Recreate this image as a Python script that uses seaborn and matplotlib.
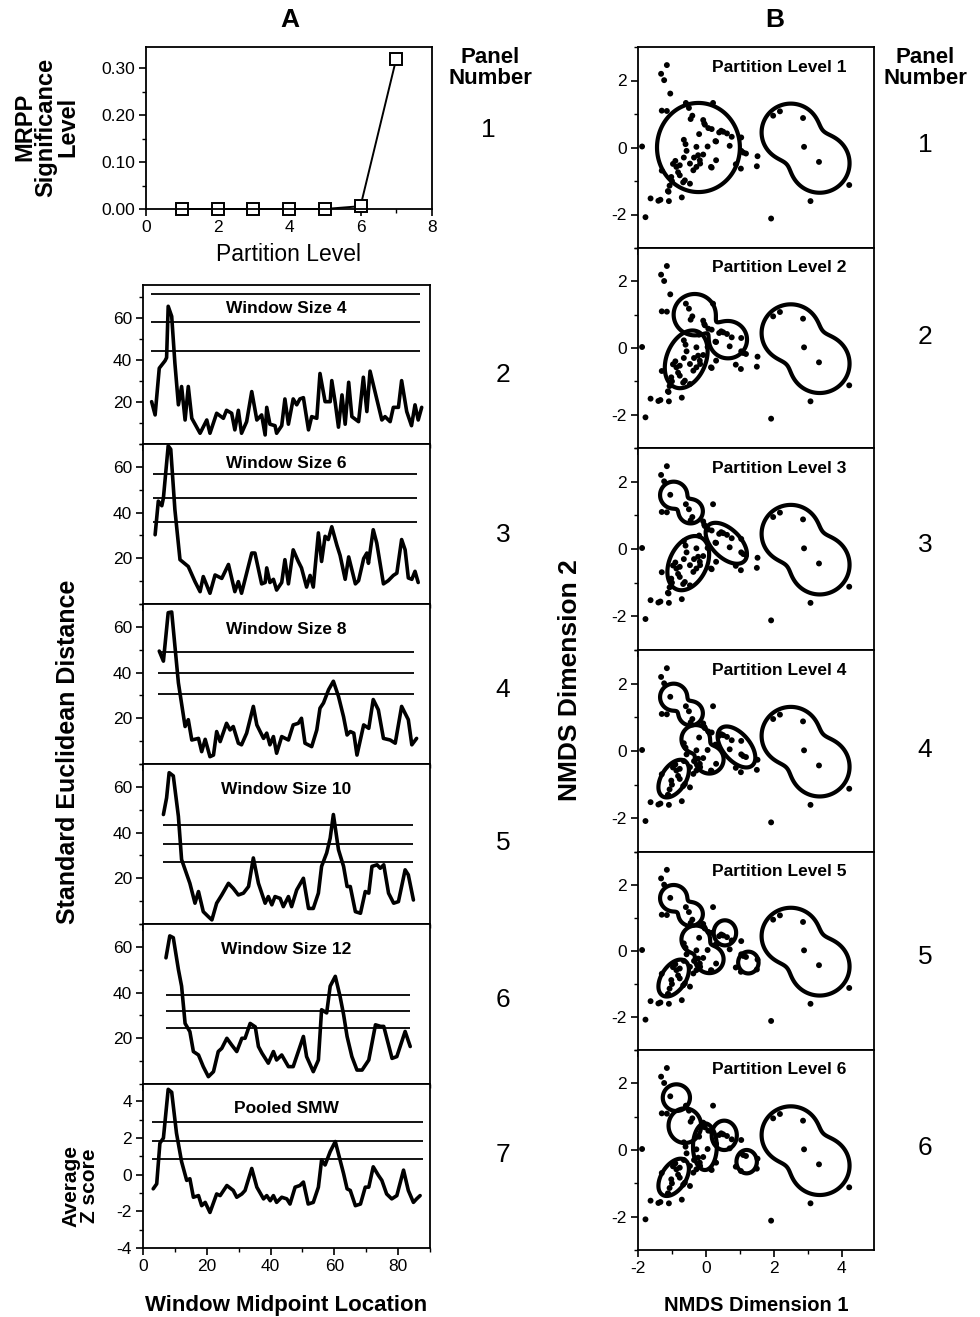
import numpy as np
import matplotlib
matplotlib.use("Agg")
import matplotlib.pyplot as plt
import seaborn as sns
from matplotlib.ticker import MultipleLocator, FormatStrFormatter

sns.set_theme(style="ticks")
plt.rcParams['font.family'] = ['Liberation Sans', 'DejaVu Sans']
plt.rcParams['axes.linewidth'] = 1.3
plt.rcParams['axes.unicode_minus'] = False

# ---------------- data: panel A1 (MRPP) ----------------
partition_levels = [1, 2, 3, 4, 5, 6, 7]
mrpp_p = [0.0, 0.0, 0.0, 0.0, 0.0, 0.006, 0.32]

# ---------------- data: SMW profiles ----------------
ws4_x = [2.7, 3.8, 5.1, 6.9, 7.4, 7.9, 9.0, 10.0, 11.1, 12.1, 13.2, 14.2, 15.3, 17.9, 20.0, 21.0, 23.1,
         25.2, 26.2, 27.8, 28.8, 29.9, 30.9, 32.5, 34.1, 35.7, 37.2, 38.3, 38.8, 39.8, 41.4, 41.9, 43.5,
         44.5, 45.6, 47.1, 48.2, 49.2, 50.3, 51.9, 52.9, 54.5, 55.5, 57.1, 58.7, 59.2, 60.3, 61.3, 62.4,
         63.4, 64.5, 65.5, 67.6, 69.1, 70.2, 71.2, 73.3, 74.9, 75.9, 77.5, 78.5, 80.1, 81.1, 82.7, 84.2,
         85.3, 86.3, 87.4]
ws4_y = [20.1, 13.8, 36.0, 39.5, 41.0, 65.4, 60.6, 38.4, 18.6, 27.3, 11.4, 27.3, 12.2, 5.1, 11.4, 5.1, 14.6,
         12.2, 16.0, 14.6, 6.7, 16.0, 5.1, 10.6, 24.9, 11.4, 13.8, 4.3, 17.4, 9.4, 8.7, 5.1, 8.7,
         21.4, 9.4, 21.4, 18.6, 21.4, 22.0, 6.7, 13.0, 12.2, 33.5, 20.1, 20.1, 30.1, 19.4, 8.0, 23.3,
         9.4, 29.3, 13.0, 10.6, 31.7, 15.4, 34.6, 21.4, 11.4, 13.0, 10.6, 17.4, 17.4, 30.1, 15.4, 8.7,
         18.6, 11.4, 17.4]

ws6_x = [3.8, 4.8, 5.9, 6.4, 7.9, 8.7, 10.0, 11.6, 14.2, 16.3, 17.9, 18.9, 21.0, 22.6, 24.7, 26.8, 28.8,
         29.9, 30.9, 32.5, 34.1, 35.1, 37.2, 38.3, 38.8, 39.8, 40.9, 41.9, 43.5, 44.5, 45.6, 47.1, 48.7,
         49.7, 51.3, 52.4, 53.4, 55.0, 56.0, 57.1, 58.1, 59.2, 60.8, 61.8, 63.4, 64.5, 66.6, 67.6, 69.2,
         70.2, 70.7, 72.2, 73.3, 75.4, 76.9, 78.5, 79.6, 81.1, 82.2, 83.2, 84.3, 85.3, 86.3]
ws6_y = [30.3, 45.0, 43.0, 46.4, 69.2, 67.7, 41.3, 19.4, 16.4, 9.8, 5.4, 12.0, 4.7, 12.7, 11.2, 17.3, 5.4,
         9.8, 4.7, 13.5, 22.3, 22.3, 8.8, 9.4, 15.8, 9.4, 10.8, 6.1, 9.4, 19.4, 8.8, 23.7, 18.6,
         15.8, 7.4, 12.5, 7.4, 31.1, 18.6, 29.6, 28.2, 33.8, 25.7, 21.3, 10.8, 20.6, 8.8, 10.2, 19.9,
         22.3, 17.8, 32.5, 26.7, 8.8, 10.2, 12.5, 13.5, 28.2, 23.7, 11.4, 10.8, 14.3, 9.4]

ws8_x = [5.1, 6.4, 7.9, 9.0, 11.1, 13.2, 14.2, 15.3, 17.4, 18.4, 19.5, 21.0, 22.1, 23.1, 24.2, 26.2, 27.3,
         28.3, 29.9, 30.9, 32.5, 34.6, 35.7, 37.8, 38.8, 39.8, 40.9, 41.9, 43.5, 45.6, 47.1, 48.7, 49.7,
         50.8, 52.9, 54.5, 55.5, 56.6, 58.2, 59.7, 61.3, 62.9, 64.0, 65.0, 66.1, 67.1, 69.2, 70.8, 72.2,
         73.8, 75.4, 77.5, 79.1, 81.1, 83.2, 84.3, 85.8]
ws8_y = [49.4, 45.0, 66.2, 66.5, 35.5, 16.4, 19.4, 10.5, 11.2, 5.4, 10.8, 3.2, 3.9, 14.2, 9.8, 17.8, 14.9,
         16.4, 9.1, 8.4, 13.5, 25.2, 17.1, 11.2, 13.5, 8.4, 12.0, 4.7, 12.0, 10.5, 17.1, 17.8, 20.0,
         9.1, 7.6, 14.9, 24.4, 26.7, 32.5, 36.2, 29.6, 20.6, 12.7, 14.2, 13.5, 3.9, 17.1, 15.6, 28.2,
         23.7, 11.2, 10.5, 9.1, 25.2, 19.4, 8.4, 11.2]

ws10_x = [6.4, 7.4, 8.2, 9.5, 11.1, 12.1, 14.7, 16.3, 17.4, 18.9, 20.5, 21.6, 23.1, 24.7, 26.8, 28.3, 29.9,
          31.5, 33.1, 34.6, 36.2, 38.3, 39.3, 40.4, 41.4, 43.0, 44.0, 45.6, 46.6, 48.2, 50.3, 51.9, 53.4,
          55.0, 56.0, 57.6, 58.7, 59.7, 61.3, 62.9, 64.0, 65.0, 66.6, 68.2, 69.7, 70.8, 71.8, 73.4, 74.4,
          75.5, 77.0, 78.6, 80.1, 82.2, 83.2, 84.8]
ws10_y = [47.9, 55.2, 66.2, 64.8, 47.1, 28.2, 17.8, 9.1, 14.2, 5.4, 3.2, 1.8, 9.1, 12.7, 17.8, 15.6, 12.7,
          13.5, 16.4, 28.9, 17.8, 9.1, 12.0, 8.4, 12.0, 11.2, 7.6, 12.0, 7.6, 14.9, 20.0, 6.8, 6.8,
          13.5, 25.2, 31.1, 37.6, 47.9, 32.5, 25.2, 16.4, 16.4, 5.4, 4.7, 14.2, 13.5, 25.2, 25.9, 24.4,
          25.9, 13.5, 9.1, 9.8, 23.7, 21.5, 10.5]

ws12_x = [7.2, 8.4, 9.5, 11.1, 12.1, 13.2, 14.7, 15.8, 17.4, 18.9, 20.5, 22.1, 23.6, 24.7, 26.3, 27.8, 29.4,
          31.0, 32.0, 33.6, 35.2, 36.2, 37.3, 39.3, 40.9, 41.9, 43.5, 45.6, 47.1, 48.7, 50.3, 51.3, 53.4,
          55.0, 56.0, 57.6, 58.7, 60.3, 61.8, 62.9, 64.0, 65.5, 67.1, 68.7, 70.8, 72.9, 74.5, 75.5, 78.1,
          79.6, 82.2, 83.8]
ws12_y = [55.2, 64.8, 64.0, 50.1, 42.8, 26.5, 22.9, 14.2, 12.7, 7.6, 3.2, 5.4, 14.2, 15.6, 20.0, 17.1, 14.2,
          20.0, 20.0, 26.5, 25.0, 16.4, 13.5, 9.1, 14.2, 10.5, 12.7, 7.6, 7.6, 14.2, 20.8, 12.0, 5.4,
          10.5, 32.5, 31.1, 42.8, 47.1, 38.3, 30.4, 20.8, 12.0, 6.1, 6.1, 10.5, 25.9, 25.2, 25.2, 11.2,
          12.0, 23.0, 16.4]

pooled_x = [3.2, 4.3, 5.3, 6.4, 7.9, 9.0, 10.5, 12.1, 13.7, 14.7, 15.8, 17.4, 18.4, 19.5, 21.0, 23.1, 24.2,
            26.3, 28.3, 29.4, 31.0, 32.0, 34.1, 35.7, 37.8, 38.8, 39.9, 40.9, 41.9, 43.5, 45.1, 46.1, 47.7,
            49.2, 50.3, 51.8, 53.4, 55.0, 56.0, 57.1, 58.7, 60.3, 61.8, 62.9, 64.0, 65.0, 66.6, 68.2, 69.7,
            70.8, 72.2, 73.8, 74.9, 76.4, 78.0, 79.6, 81.7, 83.2, 84.8, 85.8, 86.9]
pooled_y = [-0.77, -0.50, 1.72, 2.00, 4.66, 4.50, 2.27, 0.71, -0.31, -0.22, -1.23, -1.14, -1.69, -1.51, -2.06,
            -1.05, -1.14, -0.59, -0.86, -1.23, -1.05, -0.86, 0.34, -0.68, -1.32, -1.14, -1.42, -1.14, -1.51,
            -1.23, -1.32, -1.60, -0.68, -0.59, -0.40, -1.60, -1.51, -0.68, 0.80, 0.53, 1.26, 1.81, 0.80,
            0.06, -0.77, -0.86, -1.69, -1.60, -0.68, -0.68, 0.43, -0.03, -0.31, -1.05, -1.32, -1.14, 0.25,
            -0.86, -1.51, -1.32, -1.14]

# significance thresholds (three lines per panel) and their x-extent
ws4_thr = [71.0, 57.8, 44.3];  ws4_span = [2.6, 86.8]
ws6_thr = [56.7, 46.2, 35.7];  ws6_span = [3.2, 86.0]
ws8_thr = [48.9, 39.6, 30.5];  ws8_span = [4.8, 85.0]
ws10_thr = [43.5, 35.0, 27.1]; ws10_span = [6.3, 84.7]
ws12_thr = [39.1, 31.8, 24.5]; ws12_span = [7.2, 83.7]
pooled_thr = [2.9, 1.86, 0.85]; pooled_span = [2.8, 87.8]

smw_titles = ["Window Size 4", "Window Size 6", "Window Size 8", "Window Size 10", "Window Size 12", "Pooled SMW"]

# ---------------- data: NMDS ordination ----------------
nmds1 = [-1.88, -1.78, -1.63, -1.40, -1.34, -1.09, -0.71, -1.10,
         -1.15, -1.32, -1.23, -1.05, -1.30, -1.15,
         -0.59, -0.50, -0.40, 0.21,
         -0.08, -0.03, 0.07, -0.05,
         0.45, 0.51, 0.62, 0.76, 0.30, 0.70,
         1.04, 1.04, 1.10, 1.18, 1.52, 1.50, 1.03, 0.88, 0.30, 0.15,
         -0.60, -0.28, -0.23, -0.18, -0.47, -0.77, -0.87, -0.77, -0.47, -0.62,
         -0.37, -0.28, -1.02, -1.12, -0.57, -0.90, -0.65, -0.35, -0.67, -1.00,
         -0.20, 0.39, -0.65, 0.05, 0.28, -0.08, -0.97, -0.17, 0.17, -0.82, -1.07, -1.30, 0.17, -0.45,
         1.98, 2.18, 2.86, 2.89, 3.33, 3.08, 4.22, 1.92]
nmds2 = [0.03, -2.08, -1.52, -1.59, -1.56, -1.60, -1.49, -1.32,
         2.46, 2.20, 2.01, 1.61, 1.10, 1.09,
         1.33, 1.18, 0.95, 1.33,
         0.82, 0.68, 0.58, 0.72,
         0.50, 0.47, 0.42, 0.32, 0.18, 0.05,
         0.30, -0.10, -0.15, -0.18, -0.26, -0.56, -0.63, -0.50, -0.38, -0.58,
         0.10, 0.02, -0.23, -0.38, -0.48, -0.53, -0.58, -0.83, -1.08, -0.98,
         -0.68, -0.58, -0.88, -1.30, -0.10, -0.40, -0.30, -0.30, -1.04, -1.00,
         0.40, 0.45, 0.23, 0.03, 0.19, -0.21, -0.49, -0.48, -0.60, -0.74, -1.14, -0.69, 0.55, 0.85,
         0.95, 1.08, 0.88, 0.02, -0.43, -1.60, -1.12, -2.12]

# cluster outlines: blobs (centre x, centre y, semi-axis a, semi-axis b, angle deg)
right_cluster = [(2.50, 0.45, 0.86, 0.86, 0), (3.35, -0.47, 0.88, 0.88, 0)]
ul_cluster = [(-0.95, 1.60, 0.40, 0.40, 0), (-0.45, 1.12, 0.36, 0.36, 0)]
mid_cluster = [(-0.30, 0.35, 0.42, 0.42, 0), (0.10, -0.25, 0.42, 0.42, 0)]
ll_cluster = [(-0.95, -0.82, 0.62, 0.36, 58)]
level1_clusters = [[(-0.22, 0.0, 1.22, 1.33, 0)], right_cluster]
level2_clusters = [[(-0.33, 1.0, 0.62, 0.62, 0), (0.65, 0.25, 0.56, 0.56, 0)],
                   [(-0.58, -0.34, 0.90, 0.58, 69)], right_cluster]
level3_clusters = [ul_cluster, [(0.60, 0.17, 0.75, 0.42, -45)],
                   [(-0.52, -0.42, 0.85, 0.55, 65)], right_cluster]
level4_clusters = [ul_cluster, mid_cluster, [(0.90, 0.12, 0.72, 0.40, -50)], ll_cluster, right_cluster]
level5_clusters = [ul_cluster, mid_cluster, [(0.56, 0.55, 0.33, 0.38, 0)],
                   [(1.25, -0.35, 0.30, 0.33, 0)], ll_cluster, right_cluster]
level6_clusters = [[(-0.87, 1.57, 0.40, 0.40, 0)], [(-0.62, 0.73, 0.48, 0.52, 0)],
                   [(-0.03, 0.10, 0.35, 0.70, 0)], [(0.54, 0.44, 0.37, 0.44, 0)],
                   [(1.20, -0.35, 0.30, 0.35, 0)], ll_cluster, right_cluster]

# ---------------- figure ----------------
W, H = 980, 1317
fig = plt.figure(figsize=(W / 100, H / 100), dpi=100)
fig.patch.set_facecolor("white")


def px_axes(l, t, r, b):
    return fig.add_axes([l / W, 1 - b / H, (r - l) / W, (b - t) / H])


def style_axes(ax):
    ax.set_facecolor("white")
    for s in ax.spines.values():
        s.set_visible(True)
        s.set_color("black")
        s.set_linewidth(1.3)
    ax.tick_params(which="major", direction="out", length=5, width=1.2, colors="black",
                   labelsize=12.5, pad=3)
    ax.tick_params(which="minor", direction="out", length=3, width=1.0, colors="black")
    ax.set_xlabel("")
    ax.set_ylabel("")


TXT = dict(color="black")

# panel A1
ax = px_axes(146, 47, 432, 209)
sns.lineplot(x=partition_levels, y=mrpp_p, ax=ax, color="black", linewidth=1.4, marker="s",
             markersize=8, markerfacecolor="white", markeredgecolor="black", markeredgewidth=1.4,
             clip_on=False)
ax.set_xlim(0, 8)
ax.set_ylim(0, 0.345)
ax.set_xticks([0, 2, 4, 6, 8])
ax.xaxis.set_minor_locator(MultipleLocator(1))
ax.set_yticks([0.0, 0.1, 0.2, 0.3])
ax.yaxis.set_minor_locator(MultipleLocator(0.05))
ax.yaxis.set_major_formatter(FormatStrFormatter("%.2f"))
style_axes(ax)
ax.set_xlabel("Partition Level", fontsize=16.5, labelpad=6, **TXT)

# SMW panels
smw_x = [ws4_x, ws6_x, ws8_x, ws10_x, ws12_x, pooled_x]
smw_y = [ws4_y, ws6_y, ws8_y, ws10_y, ws12_y, pooled_y]
smw_thr = [ws4_thr, ws6_thr, ws8_thr, ws10_thr, ws12_thr, pooled_thr]
smw_span = [ws4_span, ws6_span, ws8_span, ws10_span, ws12_span, pooled_span]
tops = [285, 444, 604, 764, 924, 1084]
bots = [444, 604, 764, 924, 1084, 1248]
ylims = [(0, 75.5), (0, 70), (0, 70), (0, 70), (0, 70), (-4, 4.95)]
title_y = [0.85, 0.88, 0.84, 0.84, 0.84, 0.85]
for i in range(6):
    ax = px_axes(143, tops[i], 430, bots[i])
    ax.hlines(smw_thr[i], smw_span[i][0], smw_span[i][1], colors="black", linewidth=1.3)
    sns.lineplot(x=smw_x[i], y=smw_y[i], ax=ax, color="black", linewidth=2.6, sort=False,
                 estimator=None)
    ax.set_xlim(0, 90)
    ax.set_ylim(*ylims[i])
    ax.set_xticks([0, 20, 40, 60, 80])
    ax.xaxis.set_minor_locator(MultipleLocator(10))
    if i < 5:
        ax.set_yticks([20, 40, 60])
        ax.yaxis.set_minor_locator(MultipleLocator(10))
    else:
        ax.set_yticks([-4, -2, 0, 2, 4])
        ax.yaxis.set_minor_locator(MultipleLocator(1))
    style_axes(ax)
    if i < 5:
        ax.tick_params(axis="x", labelbottom=False)
    else:
        ax.set_xlabel("Window Midpoint Location", fontsize=16, fontweight="bold", labelpad=15, **TXT)
    ax.text(0.5, title_y[i], smw_titles[i], transform=ax.transAxes, ha="center", va="center",
            fontsize=12.5, fontweight="bold", **TXT)

# NMDS panels
gx = np.linspace(-2, 5, 420)
gy = np.linspace(-3, 3, 360)
GX, GY = np.meshgrid(gx, gy)


def blob_field(blobs):
    f = np.zeros_like(GX)
    for cx, cy, a, b, ang in blobs:
        t = np.deg2rad(ang)
        dx, dy = GX - cx, GY - cy
        u = dx * np.cos(t) + dy * np.sin(t)
        v = -dx * np.sin(t) + dy * np.cos(t)
        f += np.exp(-3.0 * ((u / a) ** 2 + (v / b) ** 2 - 1))
    return f


levels_clusters = [level1_clusters, level2_clusters, level3_clusters,
                   level4_clusters, level5_clusters, level6_clusters]
btops = [47, 248, 448, 650, 852, 1050]
bbots = [248, 448, 650, 852, 1050, 1250]
for i in range(6):
    ax = px_axes(638, btops[i], 874, bbots[i])
    for cl in levels_clusters[i]:
        ax.contour(GX, GY, blob_field(cl), levels=[1.0], colors="black", linewidths=3.0)
    sns.scatterplot(x=nmds1, y=nmds2, ax=ax, color="black", s=18, edgecolor="none", zorder=5)
    ax.set_xlim(-2, 4.95)
    ax.set_ylim(-3, 3)
    ax.set_xticks([-2, 0, 2, 4])
    ax.xaxis.set_minor_locator(MultipleLocator(1))
    ax.set_yticks([-2, 0, 2])
    ax.yaxis.set_minor_locator(MultipleLocator(1))
    style_axes(ax)
    if i < 5:
        ax.tick_params(axis="x", labelbottom=False)
    else:
        ax.set_xlabel("NMDS Dimension 1", fontsize=14.5, fontweight="bold", labelpad=14, **TXT)
    ax.text(0.6, 0.9, f"Partition Level {i + 1}", transform=ax.transAxes, ha="center", va="center",
            fontsize=12.5, fontweight="bold", **TXT)


def ftext(x, y, s, **kw):
    fig.text(x / W, 1 - y / H, s, **kw)


ftext(290, 20, "A", ha="center", va="center", fontsize=19, fontweight="bold", **TXT)
ftext(775, 20, "B", ha="center", va="center", fontsize=19, fontweight="bold", **TXT)
ftext(490, 68, "Panel\nNumber", ha="center", va="center", fontsize=16, fontweight="bold",
      linespacing=0.95, **TXT)
ftext(925, 68, "Panel\nNumber", ha="center", va="center", fontsize=16, fontweight="bold",
      linespacing=0.95, **TXT)
for n, yy in zip(range(1, 8), [130, 375, 535, 690, 843, 1000, 1155]):
    ftext(488 if n == 1 else 503, yy, str(n), ha="center", va="center", fontsize=19, **TXT)
for n, yy in zip(range(1, 7), [145, 337, 545, 750, 957, 1148]):
    ftext(925, yy, str(n), ha="center", va="center", fontsize=19, **TXT)

ftext(46, 127, "MRPP\nSignificance\nLevel", ha="center", va="center", rotation=90, fontsize=17,
      fontweight="bold", linespacing=0.92, **TXT)
ftext(68, 752, "Standard Euclidean Distance", ha="center", va="center", rotation=90, fontsize=18,
      fontweight="bold", **TXT)
ftext(80, 1186, "Average\nZ score", ha="center", va="center", rotation=90, fontsize=15,
      fontweight="bold", linespacing=0.95, **TXT)
ftext(570, 680, "NMDS Dimension 2", ha="center", va="center", rotation=90, fontsize=19,
      fontweight="bold", **TXT)

fig.savefig("out.png", dpi=100, facecolor="white")
